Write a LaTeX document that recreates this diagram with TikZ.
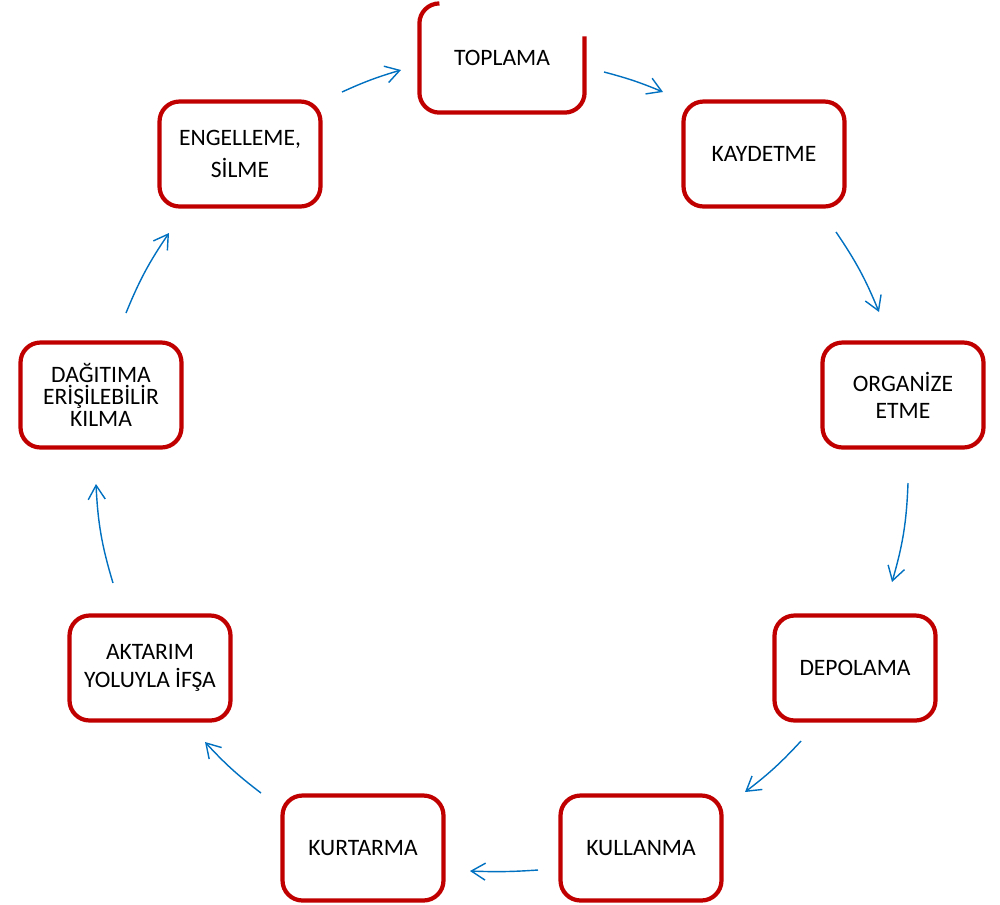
\documentclass[tikz,border=0pt]{standalone}
\usepackage{fontspec}
\setmainfont{Carlito}
\usetikzlibrary{arrows.meta}
\definecolor{kutukirmizi}{HTML}{C00000}
\definecolor{okmavi}{HTML}{0070C0}
\tikzset{
  kutucizgi/.style={draw=kutukirmizi, line width=2.4pt, rounded corners=0.4cm},
  kutu/.style={kutucizgi, minimum width=3.22cm, minimum height=2.1cm, inner sep=0pt,
    align=center, text=black, font=\fontsize{13.4}{15.5}\selectfont},
  ok/.style={okmavi, line width=0.8pt, -{Straight Barb[length=2.8mm,width=3.4mm]}}
}

\begin{document}
\begin{tikzpicture}[x=0.02cm, y=-0.02cm]
                    \useasboundingbox (0,0) rectangle (1000,904);
                    % Nodes
                    \node[kutu, draw=none] (toplama) at (502,58) {TOPLAMA};
                    \node[kutu] (kaydetme) at (764,154) {KAYDETME};
                    \node[kutu] (organize) at (903,395) {ORGAN\.IZE\\ETME};
                    \node[kutu] (depolama) at (855,668) {DEPOLAMA};
                    \node[kutu] (kullanma) at (641,848) {KULLANMA};
                    \node[kutu] (kurtarma) at (363,848) {KURTARMA};
                    \node[kutu] (aktarim) at (150,668) {AKTARIM\\YOLUYLA \.IF\c{S}A};
                    \node[kutu, font=\fontsize{13.4}{12.3}\selectfont] (dagitima) at (101,395) {DA\u{G}ITIMA\\ER\.I\c{S}\.ILEB\.IL\.IR\\KILMA};
                    \node[kutu] (engelleme) at (240,154) {ENGELLEME,\\[2.5pt]S\.ILME};
                    % open border of the top box
                    \draw[kutucizgi] ([xshift=0.4cm]toplama.north west) -- (toplama.north west)
                        -- (toplama.south west) -- (toplama.south east) -- ([yshift=-0.66cm]toplama.north east);
                    % Arrow ends
                    \coordinate (e1) at (342,92);  \coordinate (t1) at (401,70);
                    \coordinate (t2) at (604,72);  \coordinate (k1) at (663,92);
                    \coordinate (k2) at (836,232); \coordinate (o1) at (879,312);
                    \coordinate (o2) at (908,483); \coordinate (d1) at (892,582);
                    \coordinate (d2) at (801,741); \coordinate (u1) at (745,792);
                    \coordinate (u2) at (538,870); \coordinate (r1) at (470,871);
                    \coordinate (r2) at (261,793); \coordinate (a1) at (205,742);
                    \coordinate (a2) at (113,583); \coordinate (g1) at (96,484);
                    \coordinate (g2) at (126,313); \coordinate (n1) at (169,233);
                    % Arrows
                    \draw[ok] (e1) to[bend left=4] (t1);
                    \draw[ok] (t2) to[bend left=4] (k1);
                    \draw[ok] (k2) to[bend left=6] (o1);
                    \draw[ok] (o2) to[bend left=7] (d1);
                    \draw[ok] (d2) to[bend left=5] (u1);
                    \draw[ok] (u2) to[bend left=3] (r1);
                    \draw[ok] (r2) to[bend left=5] (a1);
                    \draw[ok] (a2) to[bend left=7] (g1);
                    \draw[ok] (g2) to[bend left=6] (n1);
                \end{tikzpicture}
\end{document}
